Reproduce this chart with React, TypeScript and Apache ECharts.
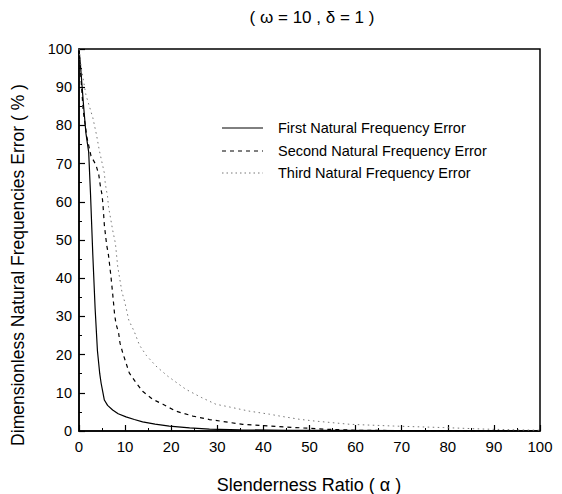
import React, { useEffect, useRef } from "react";
import * as echarts from "echarts";

const titleText = "( ω = 10 , δ = 1 )";
const xAxisName = "Slenderness Ratio ( α )";
const yAxisName = "Dimensionless Natural Frequencies Error ( % )";
const seriesNames = [
  "First Natural Frequency Error",
  "Second Natural Frequency Error",
  "Third Natural Frequency Error",
];

const firstX = [0, 0.3, 1, 1.5, 2.1, 2.5, 3.0, 3.5, 4.0, 4.5, 4.8, 5.2, 5.5, 6.2, 7.3, 8.5, 10.2, 12, 13.8, 16.5, 19.6, 24, 28.3, 35, 45, 55, 70, 85, 100];
const firstY = [100, 96, 85, 78, 73, 62, 46, 32, 21, 15, 12.5, 10, 8.1, 6.7, 5.5, 4.5, 3.7, 3.0, 2.4, 1.8, 1.3, 0.8, 0.5, 0.3, 0.2, 0.15, 0.1, 0.05, 0.05];

const secondX = [0, 0.9, 1.7, 2.6, 3.7, 4.3, 4.6, 5.0, 5.2, 5.5, 6.0, 6.4, 6.9, 7.3, 7.7, 8.0, 8.6, 8.9, 9.5, 10.9, 12.4, 13.8, 16.0, 18.2, 21.0, 24.7, 28.3, 35.5, 41.3, 47, 53.7, 60, 70, 80, 100];
const secondY = [100, 84, 77, 72, 69.6, 67, 64.4, 61.8, 59.2, 53.9, 48.7, 46, 40.8, 36, 30.8, 28.2, 25.6, 23, 20.4, 15.2, 12.6, 10.4, 8.3, 7.0, 5.2, 3.9, 3.0, 1.75, 1.3, 0.9, 0.45, 0.2, 0.1, 0.05, 0];

const thirdX = [0, 0.5, 1.5, 3.0, 3.8, 4.4, 5.5, 5.7, 6.2, 6.4, 7.3, 7.9, 8.4, 9.3, 10.0, 10.8, 12.0, 13.1, 14.6, 16.7, 19.2, 21.7, 23.2, 26.5, 29.7, 32.6, 36.9, 41.3, 43.6, 47.9, 51.2, 58.8, 68.2, 79, 88, 95, 100];
const thirdY = [100, 95, 88, 82, 77.5, 73.5, 67.5, 64.8, 61.3, 58.7, 52.6, 49.1, 43, 36.5, 33.4, 29, 26, 22.5, 19.8, 17, 14.4, 12.2, 10.9, 8.8, 7.0, 6.3, 5.2, 4.4, 3.9, 3.05, 2.6, 1.75, 1.3, 0.9, 0.5, 0.3, 0.2];

const zip = (xs: number[], ys: number[]) => xs.map((x, i) => [x, ys[i]]);

const FONT = "Liberation Sans, Arial, sans-serif";

export default function App() {
  const ref = useRef<HTMLDivElement>(null);
  useEffect(() => {
    if (!ref.current) return;
    const chart = echarts.init(ref.current, null, { renderer: "svg" });
    const axisCommon = {
      type: "value" as const,
      min: 0,
      max: 100,
      interval: 10,
      axisLine: { show: true, lineStyle: { color: "#000", width: 1.5 } },
      axisTick: { show: true, inside: true, length: 6, lineStyle: { color: "#000", width: 1.2 } },
      minorTick: { show: true, splitNumber: 2, length: 3, lineStyle: { color: "#000", width: 1 } },
      splitLine: { show: false },
    };
    const legendRows = [128, 151, 173];
    const dashes: any[] = [null, [4, 4], [1.5, 3]];
    const graphics: any[] = [];
    legendRows.forEach((y, i) => {
      graphics.push({
        type: "line",
        shape: { x1: 222, y1: y, x2: 263, y2: y },
        style: { stroke: i === 2 ? "#777" : "#000", lineWidth: 1, lineDash: dashes[i] || undefined },
      });
      graphics.push({
        type: "text",
        x: 278,
        y: y,
        style: { text: seriesNames[i], fontFamily: FONT, fontSize: 14.5, fill: "#000", verticalAlign: "middle", align: "left" },
      });
    });
    graphics.push({
      type: "text",
      x: 18,
      y: 265,
      rotation: Math.PI / 2,
      style: { text: yAxisName, fontFamily: FONT, fontSize: 17.5, fill: "#000", verticalAlign: "middle", align: "center" },
    });
    graphics.push({
      type: "text",
      x: 309,
      y: 485,
      style: { text: xAxisName, fontFamily: FONT, fontSize: 18, fill: "#000", verticalAlign: "middle", align: "center" },
    });
    chart.setOption({
      animation: false,
      backgroundColor: "#fff",
      title: {
        text: titleText,
        left: 307,
        top: 4,
        textAlign: "center",
        textStyle: { fontFamily: FONT, fontSize: 17, fontWeight: "normal", color: "#000" },
      },
      grid: { left: 79, top: 49, width: 461, height: 382, show: true, borderColor: "#000", borderWidth: 1.5, backgroundColor: "transparent" },
      xAxis: { ...axisCommon, axisLabel: { fontFamily: FONT, fontSize: 15, color: "#000", margin: 8 } },
      yAxis: { ...axisCommon, axisLabel: { fontFamily: FONT, fontSize: 14.5, color: "#000", margin: 7 } },
      series: [
        { name: seriesNames[0], type: "line", data: zip(firstX, firstY), symbol: "none", lineStyle: { color: "#000", width: 1.2, type: "solid" } },
        { name: seriesNames[1], type: "line", data: zip(secondX, secondY), symbol: "none", lineStyle: { color: "#000", width: 1.2, type: [4, 4] } },
        { name: seriesNames[2], type: "line", data: zip(thirdX, thirdY), symbol: "none", lineStyle: { color: "#777", width: 1, type: [1.5, 3.5] } },
      ],
      graphic: graphics,
    });
    return () => chart.dispose();
  }, []);
  return <div ref={ref} style={{ position: "absolute", left: 0, top: 0, width: 562, height: 494 }} />;
}
